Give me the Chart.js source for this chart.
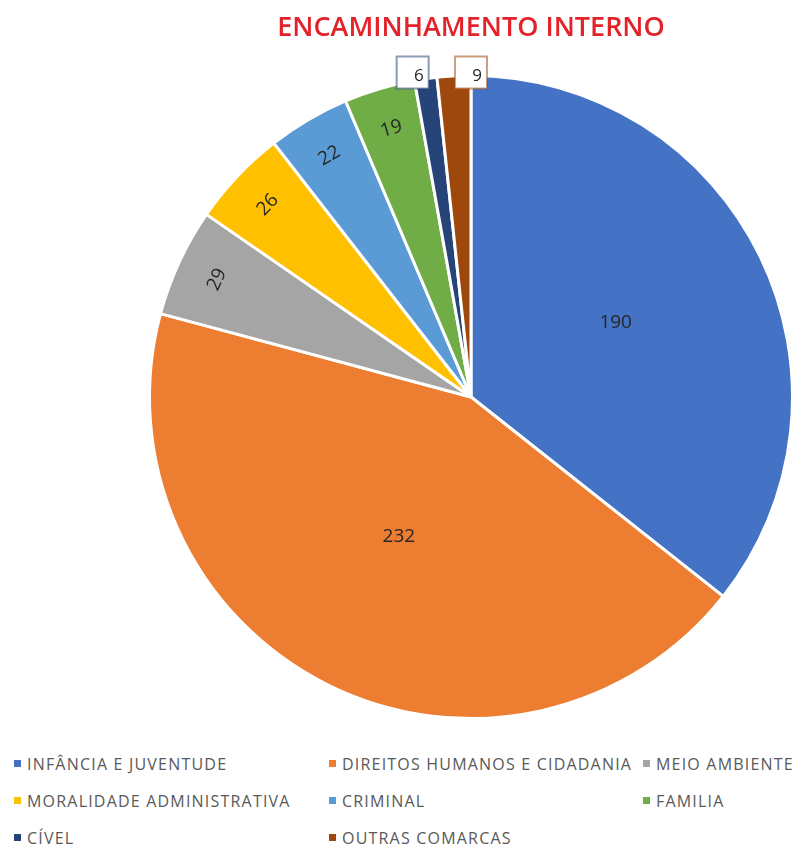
<!DOCTYPE html>
<html lang="pt">
<head>
<meta charset="UTF-8">
<title>Encaminhamento Interno</title>
<style>
    body { margin: 0; background: #fff; }
    .wrap { position: relative; width: 794px; height: 847px; }
    #pieChart { position: absolute; left: 0; top: 0; }
    .legend {
        position: absolute;
        left: 14px;
        top: 745px;
        display: grid;
        grid-template-columns: 315px 314px 160px;
        grid-auto-rows: 37px;
        font-family: "Open Sans", sans-serif;
        font-size: 16px;
        letter-spacing: 1.2px;
        color: #595959;
    }
    .legend div { display: flex; align-items: center; white-space: nowrap; }
    .legend span.box { width: 7px; height: 7px; margin-right: 6px; flex: none; }
</style>
</head>
<body>
<div class="wrap">
    <canvas id="pieChart" width="794" height="740"></canvas>
    <div class="legend" id="legend"></div>
</div>

<script src="https://cdn.jsdelivr.net/npm/chart.js@4/dist/chart.umd.min.js"></script>
<script>
    // categories and counts, in drawing order (clockwise from the top)
    const categories = [
        'INFÂNCIA E JUVENTUDE',
        'DIREITOS HUMANOS E CIDADANIA',
        'MEIO AMBIENTE',
        'MORALIDADE ADMINISTRATIVA',
        'CRIMINAL',
        'FAMILIA',
        'CÍVEL',
        'OUTRAS COMARCAS'
    ];
    const counts = [190, 232, 29, 26, 22, 19, 6, 9];
    const sliceColors = ['#4472C4', '#ED7D31', '#A5A5A5', '#FFC000', '#5B9BD5', '#70AD47', '#264478', '#9E480E'];

    // html legend in three columns
    const legendEl = document.getElementById('legend');
    categories.forEach((name, i) => {
        const item = document.createElement('div');
        const box = document.createElement('span');
        box.className = 'box';
        box.style.background = sliceColors[i];
        item.appendChild(box);
        item.appendChild(document.createTextNode(name));
        legendEl.appendChild(item);
    });

    // value labels: big slices flat, medium ones rotated along the arc,
    // tiny ones in a small box above the pie
    const sliceLabels = {
        id: 'sliceLabels',
        afterDatasetsDraw(chart) {
            const ctx = chart.ctx;
            const arcs = chart.getDatasetMeta(0).data;
            const values = chart.data.datasets[0].data;
            let side = -1;
            ctx.save();
            ctx.font = '19px "Open Sans", sans-serif';
            ctx.fillStyle = '#262626';
            arcs.forEach((arc, i) => {
                const {x, y, startAngle, endAngle, outerRadius} = arc.getProps(['x', 'y', 'startAngle', 'endAngle', 'outerRadius'], true);
                const mid = (startAngle + endAngle) / 2;
                const text = String(values[i]);
                if (values[i] >= 100) {
                    const r = outerRadius * 0.5;
                    ctx.textAlign = 'center';
                    ctx.textBaseline = 'middle';
                    ctx.fillText(text, x + Math.cos(mid) * r, y + Math.sin(mid) * r - 4);
                } else if (values[i] >= 10) {
                    const r = outerRadius * 0.87;
                    ctx.save();
                    ctx.translate(x + Math.cos(mid) * r, y + Math.sin(mid) * r);
                    ctx.rotate(mid + Math.PI / 2);
                    ctx.textAlign = 'center';
                    ctx.textBaseline = 'middle';
                    ctx.fillText(text, 0, 0);
                    ctx.restore();
                } else {
                    const px = x + Math.cos(mid) * outerRadius;
                    const w = 32, h = 32;
                    const top = y - outerRadius - 19;
                    const left = side < 0 ? px - w + 3 : px + 1;
                    ctx.fillStyle = '#ffffff';
                    ctx.fillRect(left, top, w, h);
                    ctx.strokeStyle = sliceColors[i] + '88';
                    ctx.lineWidth = 2;
                    ctx.strokeRect(left, top, w, h);
                    ctx.fillStyle = '#262626';
                    ctx.font = '17px "Open Sans", sans-serif';
                    ctx.textAlign = 'right';
                    ctx.textBaseline = 'middle';
                    ctx.fillText(text, left + w - 5, top + h / 2 + 4);
                    ctx.font = '19px "Open Sans", sans-serif';
                    side = -side;
                }
            });
            ctx.restore();
        }
    };

    new Chart(document.getElementById('pieChart'), {
        type: 'pie',
        data: {
            labels: categories,
            datasets: [{
                data: counts,
                backgroundColor: sliceColors,
                borderColor: '#ffffff',
                borderWidth: 3
            }]
        },
        options: {
            responsive: false,
            animation: false,
            layout: { padding: { left: 148, right: 0, top: 0, bottom: 19 } },
            plugins: {
                legend: { display: false },
                tooltip: { enabled: false },
                title: {
                    display: true,
                    text: 'ENCAMINHAMENTO INTERNO',
                    color: '#E3232A',
                    font: { family: '"Open Sans", sans-serif', size: 27, weight: '600' },
                    padding: { top: 12, bottom: 28.6 }
                }
            }
        },
        plugins: [sliceLabels]
    });
</script>
</body>
</html>
